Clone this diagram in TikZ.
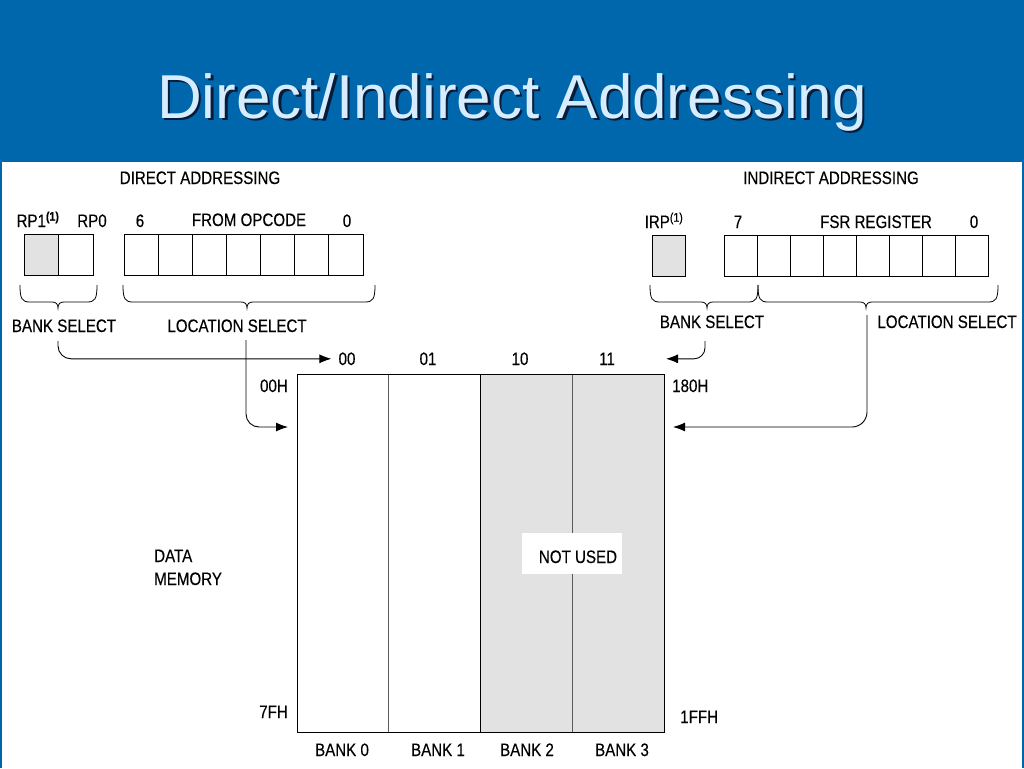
\documentclass[tikz,border=0pt]{standalone}
\usepackage{fontspec}
\setmainfont{Liberation Sans}
\newfontfamily\condfont[FakeStretch=0.84,FakeBold=0.3]{Liberation Sans}
\usetikzlibrary{arrows.meta}
\definecolor{hdrblue}{RGB}{0,103,172}
\definecolor{ttl}{RGB}{214,236,255}
\definecolor{shd}{RGB}{8,28,58}
\definecolor{cellgray}{RGB}{226,226,226}
\definecolor{divgray}{RGB}{90,90,90}
\newcommand{\mybrace}[4]{% x1, xmid, x2, ytop
  \draw[line width=0.8pt] (#1,#4) .. controls (#1,#4+14) and (#1+2,#4+17) .. (#1+10,#4+17) -- (#2-6,#4+17)
    .. controls (#2-2,#4+17) and (#2,#4+19) .. (#2,#4+23)
    .. controls (#2,#4+19) and (#2+2,#4+17) .. (#2+6,#4+17) -- (#3-10,#4+17)
    .. controls (#3-2,#4+17) and (#3,#4+14) .. (#3,#4);}
\begin{document}
\begin{tikzpicture}[x=1pt,y=-1pt,
  lbl/.style={font=\condfont\fontsize{18}{20}\selectfont, inner sep=0pt, anchor=base},
  cellbox/.style={draw, line width=0.8pt, minimum height=41pt, inner sep=0pt, outer sep=0pt, anchor=north west},
  bankbox/.style={draw=divgray, line width=0.8pt, minimum width=91.75pt, minimum height=358pt, inner sep=0pt, outer sep=0pt, anchor=north west},
  arr/.style={line width=0.9pt, -{Latex[length=12pt,width=9pt]}},
  titlefont/.style={font=\fontsize{62}{70}\selectfont, inner sep=0pt, anchor=base}
]
\useasboundingbox (0,0) rectangle (1024,768);
\fill[white] (0,0) rectangle (1024,768);
% header
\fill[hdrblue] (0,0) rectangle (1024,162);
\fill[hdrblue] (0,162) rectangle (1.5,768);
\fill[hdrblue] (1021.5,162) rectangle (1024,768);
\node[titlefont, text=shd] (titleshadow) at (514.5,120.5) {Direct/Indirect Addressing};
\node[titlefont, text=ttl] (title) at (512,118) {Direct/Indirect Addressing};

% ---------- direct addressing ----------
\node[lbl] (dirhead) at (200,184) {DIRECT ADDRESSING};
\node[lbl] (rp1) at (38,227) {RP1\textsuperscript{\bfseries(1)}};
\node[lbl] (rp0) at (92,227) {RP0};
\node[lbl] (b6) at (140,227) {6};
\node[lbl] (fromop) at (249,226) {FROM OPCODE};
\node[lbl] (b0d) at (347,227) {0};
\node[cellbox, fill=cellgray, minimum width=34pt] (rp1c) at (24,234) {};
\node[cellbox, minimum width=35pt] (rp0c) at (58,234) {};
\foreach \i in {0,...,6} {
  \node[cellbox, minimum width=34.14pt] (op\i) at (124+34.14*\i,234) {};
}
\mybrace{20}{58}{97}{285}
\mybrace{123}{247}{375}{285}
\node[lbl] (bsd) at (64,332) {BANK SELECT};
\node[lbl] (lsd) at (237,332) {LOCATION SELECT};

% ---------- indirect addressing ----------
\node[lbl] (indhead) at (831,184) {INDIRECT ADDRESSING};
\node[lbl] (irp) at (664,228) {IRP\textsuperscript{(1)}};
\node[lbl] (b7) at (738,228) {7};
\node[lbl] (fsr) at (876,228) {FSR REGISTER};
\node[lbl] (b0i) at (974,228) {0};
\node[cellbox, fill=cellgray, minimum width=33pt] (irpc) at (652,235) {};
\foreach \i in {0,...,7} {
  \node[cellbox, minimum width=33pt] (fsr\i) at (724+33*\i,235) {};
}
\mybrace{650}{707}{758}{285}
\mybrace{758}{866}{998}{285}
\node[lbl] (bsi) at (712,328) {BANK SELECT};
\node[lbl] (lsi) at (947,328) {LOCATION SELECT};

% ---------- data memory ----------
\node[bankbox] (bank0) at (297,374) {};
\node[bankbox] (bank1) at (388.75,374) {};
\node[bankbox, fill=cellgray] (bank2) at (480.5,374) {};
\node[bankbox, fill=cellgray] (bank3) at (572.25,374) {};
\draw[line width=0.9pt] (bank0.north west) rectangle (bank3.south east);
\draw[line width=1.6pt] (bank2.north west) -- (bank2.south west);
\node[fill=white, minimum width=100pt, minimum height=41pt, inner sep=0pt] (nu) at (572,553.5) {};
\node[lbl] (nutext) at (578,563) {NOT USED};

\node[lbl] (s00) at (347,365) {00};
\node[lbl] (s01) at (428,365) {01};
\node[lbl] (s10) at (520,365) {10};
\node[lbl] (s11) at (607,365) {11};

\node[lbl, anchor=base east] (a00h) at (288,392) {00H};
\node[lbl, anchor=base west] (a180h) at (672,392) {180H};
\node[lbl, anchor=base east] (a7fh) at (288,718) {7FH};
\node[lbl, anchor=base west] (a1ffh) at (680,723) {1FFH};

\node[lbl] (lb0) at (342,756) {BANK 0};
\node[lbl] (lb1) at (438,756) {BANK 1};
\node[lbl] (lb2) at (527,756) {BANK 2};
\node[lbl] (lb3) at (622,756) {BANK 3};

\node[lbl, anchor=base west] (dm1) at (154,562) {DATA};
\node[lbl, anchor=base west] (dm2) at (154,585) {MEMORY};

% ---------- connectors ----------
\coordinate (dbs) at (58,341);
\coordinate (dls) at (246,340);
\coordinate (ibs) at (705,341);
\coordinate (ils) at (867,315);
\coordinate (dlend) at (288,427);
\coordinate (ilend) at (673,427);
\draw[arr, rounded corners=13pt] (dbs) |- ([xshift=-7pt]s00.west);
\draw[arr, rounded corners=13pt] (dls) |- (dlend);
\draw[arr, rounded corners=11pt] (ibs) |- ([xshift=-6pt]s11.east -| a180h.west);
\draw[arr, rounded corners=15pt] (ils) |- (ilend);
\end{tikzpicture}
\end{document}
